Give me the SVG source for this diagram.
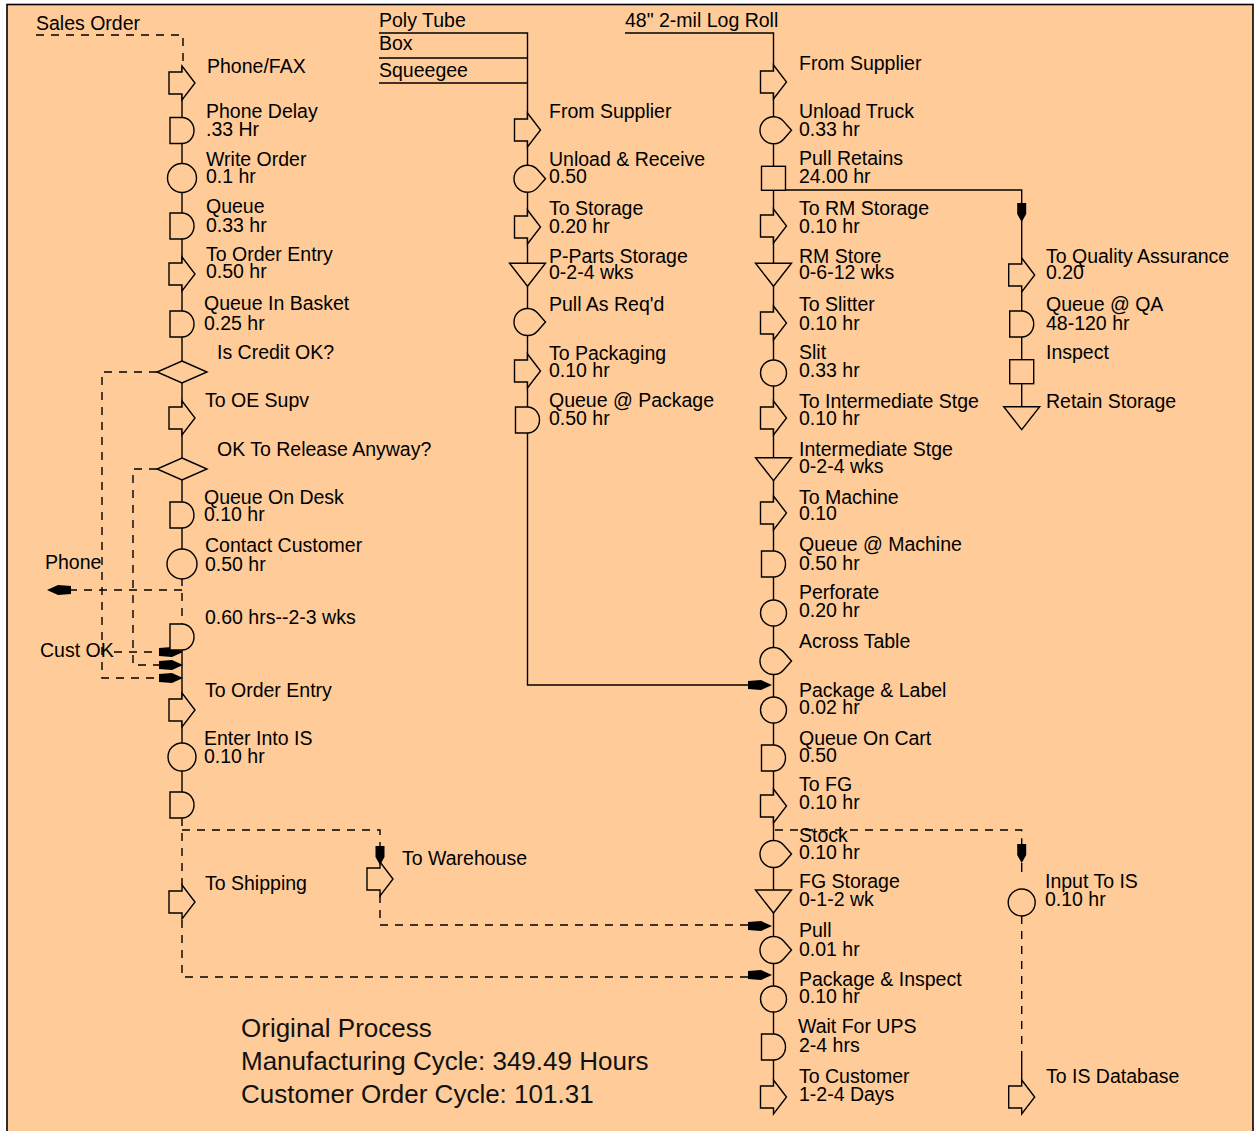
<svg xmlns="http://www.w3.org/2000/svg" width="1256" height="1131" viewBox="0 0 1256 1131">
<style>
.t{font-family:"Liberation Sans",Arial,sans-serif;font-size:19.5px;fill:#000}
.big{font-family:"Liberation Sans",Arial,sans-serif;font-size:26px;fill:#111}
.sh{fill:#FFCC99;stroke:#000;stroke-width:1.4}
.ln{fill:none;stroke:#000;stroke-width:1.4}
.ds{fill:none;stroke:#000;stroke-width:1.4;stroke-dasharray:8 7}
.ah{fill:#000;stroke:none}
</style>
<defs>
<path id="tr" d="M0,-17 L13,0 L0,17 V11 H-13 V-11 H0 Z"/>
<path id="dl" d="M-12,-13 H0 A12,13 0 0 1 0,13 H-12 Z"/>
<path id="ot" d="M18,0 L10.1,-8.93 A13.5,13.5 0 1 0 10.1,8.93 Z"/>
<path id="st" d="M-18,-11 H18 L0,12 Z"/>
<rect id="in" x="-12" y="-12" width="24" height="24"/>
<path id="dm" d="M0,-11 L25,0 L0,11 L-25,0 Z"/>
<path id="ah" d="M0,0 L-11,-5 L-24,-4 L-24,4 L-11,5 Z"/>
<path id="ahd" d="M0,0 L-4.5,-8 L-4.5,-19 L4.5,-19 L4.5,-8 Z"/>
</defs>
<rect x="0" y="0" width="1256" height="1131" fill="#fff"/>
<rect x="7" y="4.5" width="1246" height="1140" fill="#FFCC99" stroke="#000" stroke-width="1.6"/>

<g id="connectors">
<!-- left column solid -->
<path class="ln" d="M182,66 V579"/>
<path class="ln" d="M182,650 V793"/>
<!-- left column dashed -->
<path class="ds" d="M36,35 H183 V66"/>
<path class="ds" d="M157,372 H102 V678 H159"/>
<path class="ds" d="M157,469 H133 V665 H159"/>
<path class="ds" d="M182,578 V624"/>
<path class="ds" d="M182,590 H71"/>
<path class="ds" d="M114,652 H159"/>
<path class="ds" d="M182,818 V885"/>
<path class="ds" d="M182,830 H380 V846"/>
<path class="ds" d="M182,920 V977 H750"/>
<path class="ds" d="M380,895 V925 H750"/>
<use href="#ah" class="ah" transform="translate(47,590) rotate(180)"/>
<use href="#ah" class="ah" transform="translate(183,652)"/>
<use href="#ah" class="ah" transform="translate(183,665)"/>
<use href="#ah" class="ah" transform="translate(183,678)"/>
<use href="#ahd" class="ah" transform="translate(380,865)"/>
<!-- middle column -->
<path class="ln" d="M379,33 H527.5 V685 H750"/>
<path class="ln" d="M379,58 H527.5"/>
<path class="ln" d="M379,83 H527.5"/>
<use href="#ah" class="ah" transform="translate(772,685)"/>
<use href="#ah" class="ah" transform="translate(772,926)"/>
<use href="#ah" class="ah" transform="translate(772,975)"/>
<!-- right column -->
<path class="ln" d="M625,33 H773.5 V1080"/>
<path class="ln" d="M773.5,190 H1021.7 V407"/>
<use href="#ahd" class="ah" transform="translate(1021.7,222)"/>
<!-- IS column -->
<path class="ds" d="M775,830 H1021.7 V844"/>
<use href="#ahd" class="ah" transform="translate(1021.7,863)"/>
<path class="ln" d="M1021.7,863 V872"/>
<path class="ds" d="M1021.7,916 V1058"/>
<path class="ln" d="M1021.7,1058 V1080"/>
</g>

<!-- left column nodes -->
<g id="n_sales"><text class="t" x="36" y="30">Sales Order</text></g>
<g id="n_phonefax"><use href="#tr" class="sh" x="182" y="83"/><text class="t" x="207" y="73">Phone/FAX</text></g>
<g id="n_phonedelay"><use href="#dl" class="sh" x="182" y="130.5"/><text class="t" x="206" y="118">Phone Delay</text><text class="t" x="206" y="136">.33 Hr</text></g>
<g id="n_writeorder"><circle class="sh" cx="182" cy="178" r="14.5"/><text class="t" x="206" y="165.5">Write Order</text><text class="t" x="206" y="183">0.1 hr</text></g>
<g id="n_queue"><use href="#dl" class="sh" x="182" y="226"/><text class="t" x="206" y="213">Queue</text><text class="t" x="206" y="232">0.33 hr</text></g>
<g id="n_toorderentry1"><use href="#tr" class="sh" x="182" y="274"/><text class="t" x="206" y="260.5">To Order Entry</text><text class="t" x="206" y="278">0.50 hr</text></g>
<g id="n_queuebasket"><use href="#dl" class="sh" x="182" y="324"/><text class="t" x="204" y="310">Queue In Basket</text><text class="t" x="204" y="330">0.25 hr</text></g>
<g id="n_credit"><use href="#dm" class="sh" x="182" y="372"/><text class="t" x="217" y="359">Is Credit OK?</text></g>
<g id="n_oesupv"><use href="#tr" class="sh" x="182" y="418"/><text class="t" x="205" y="407">To OE Supv</text></g>
<g id="n_release"><use href="#dm" class="sh" x="182" y="469"/><text class="t" x="217" y="456">OK To Release Anyway?</text></g>
<g id="n_queuedesk"><use href="#dl" class="sh" x="182" y="515"/><text class="t" x="204" y="504">Queue On Desk</text><text class="t" x="204" y="521">0.10 hr</text></g>
<g id="n_contact"><circle class="sh" cx="182" cy="564" r="15"/><text class="t" x="205" y="551.5">Contact Customer</text><text class="t" x="205" y="570.5">0.50 hr</text></g>
<g id="n_phone"><text class="t" x="45" y="569">Phone</text></g>
<g id="n_wait"><use href="#dl" class="sh" x="182" y="637"/><text class="t" x="205" y="624">0.60 hrs--2-3 wks</text></g>
<g id="n_custok"><text class="t" x="40" y="656.5">Cust OK</text></g>
<g id="n_toorderentry2"><use href="#tr" class="sh" x="182" y="710"/><text class="t" x="205" y="696.5">To Order Entry</text></g>
<g id="n_enteris"><circle class="sh" cx="182" cy="757" r="14"/><text class="t" x="204" y="745">Enter Into IS</text><text class="t" x="204" y="762.5">0.10 hr</text></g>
<g id="n_delay3"><use href="#dl" class="sh" x="182" y="805"/></g>
<g id="n_toshipping"><use href="#tr" class="sh" x="182" y="902"/><text class="t" x="205" y="890">To Shipping</text></g>
<g id="n_towarehouse"><use href="#tr" class="sh" x="380" y="879"/><text class="t" x="402" y="865">To Warehouse</text></g>

<!-- middle column nodes -->
<g id="n_polytube"><text class="t" x="379" y="26.5">Poly Tube</text></g>
<g id="n_box"><text class="t" x="379" y="49.5">Box</text></g>
<g id="n_squeegee"><text class="t" x="379" y="76.5">Squeegee</text></g>
<g id="n_m_fromsupplier"><use href="#tr" class="sh" x="527.5" y="130"/><text class="t" x="549" y="118.3">From Supplier</text></g>
<g id="n_m_unload"><use href="#ot" class="sh" x="527.5" y="178.7"/><text class="t" x="549" y="165.7">Unload &amp; Receive</text><text class="t" x="549" y="182.7">0.50</text></g>
<g id="n_m_tostorage"><use href="#tr" class="sh" x="527.5" y="227"/><text class="t" x="549" y="215">To Storage</text><text class="t" x="549" y="233">0.20 hr</text></g>
<g id="n_m_pparts"><use href="#st" class="sh" x="527.5" y="274.3"/><text class="t" x="549" y="262.7">P-Parts Storage</text><text class="t" x="549" y="279.3">0-2-4 wks</text></g>
<g id="n_m_pull"><use href="#ot" class="sh" x="527.5" y="322"/><text class="t" x="549" y="311">Pull As Req'd</text></g>
<g id="n_m_topack"><use href="#tr" class="sh" x="527.5" y="371"/><text class="t" x="549" y="360">To Packaging</text><text class="t" x="549" y="377">0.10 hr</text></g>
<g id="n_m_queuepack"><use href="#dl" class="sh" x="527.5" y="420"/><text class="t" x="549" y="407">Queue @ Package</text><text class="t" x="549" y="425">0.50 hr</text></g>

<!-- right column nodes -->
<g id="n_logroll"><text class="t" x="625" y="26.5">48" 2-mil Log Roll</text></g>
<g id="n_r_fromsupplier"><use href="#tr" class="sh" x="773.5" y="82"/><text class="t" x="799" y="70">From Supplier</text></g>
<g id="n_r_unload"><use href="#ot" class="sh" x="773.5" y="130.3"/><text class="t" x="799" y="118.3">Unload Truck</text><text class="t" x="799" y="136">0.33 hr</text></g>
<g id="n_r_pullretains"><use href="#in" class="sh" x="773.5" y="178.3"/><text class="t" x="799" y="165">Pull Retains</text><text class="t" x="799" y="182.7">24.00 hr</text></g>
<g id="n_r_torm"><use href="#tr" class="sh" x="773.5" y="226"/><text class="t" x="799" y="215">To RM Storage</text><text class="t" x="799" y="233.3">0.10 hr</text></g>
<g id="n_r_rmstore"><use href="#st" class="sh" x="773.5" y="274.3"/><text class="t" x="799" y="262.7">RM Store</text><text class="t" x="799" y="279.3">0-6-12 wks</text></g>
<g id="n_r_toslitter"><use href="#tr" class="sh" x="773.5" y="323"/><text class="t" x="799" y="310.7">To Slitter</text><text class="t" x="799" y="330">0.10 hr</text></g>
<g id="n_r_slit"><circle class="sh" cx="773.5" cy="373" r="13"/><text class="t" x="799" y="359">Slit</text><text class="t" x="799" y="376.7">0.33 hr</text></g>
<g id="n_r_tointer"><use href="#tr" class="sh" x="773.5" y="418"/><text class="t" x="799" y="407.7">To Intermediate Stge</text><text class="t" x="799" y="425">0.10 hr</text></g>
<g id="n_r_interstge"><use href="#st" class="sh" x="773.5" y="468.7"/><text class="t" x="799" y="455.7">Intermediate Stge</text><text class="t" x="799" y="473.3">0-2-4 wks</text></g>
<g id="n_r_tomachine"><use href="#tr" class="sh" x="773.5" y="513"/><text class="t" x="799" y="504">To Machine</text><text class="t" x="799" y="520">0.10</text></g>
<g id="n_r_queuemachine"><use href="#dl" class="sh" x="773.5" y="564"/><text class="t" x="799" y="550.7">Queue @ Machine</text><text class="t" x="799" y="570">0.50 hr</text></g>
<g id="n_r_perforate"><circle class="sh" cx="773.5" cy="613" r="13"/><text class="t" x="799" y="599.3">Perforate</text><text class="t" x="799" y="617.3">0.20 hr</text></g>
<g id="n_r_across"><use href="#ot" class="sh" x="773.5" y="661"/><text class="t" x="799" y="647.7">Across Table</text></g>
<g id="n_r_packlabel"><circle class="sh" cx="773.5" cy="710" r="13"/><text class="t" x="799" y="696.7">Package &amp; Label</text><text class="t" x="799" y="714">0.02 hr</text></g>
<g id="n_r_queuecart"><use href="#dl" class="sh" x="773.5" y="758"/><text class="t" x="799" y="745">Queue On Cart</text><text class="t" x="799" y="761.7">0.50</text></g>
<g id="n_r_tofg"><use href="#tr" class="sh" x="773.5" y="806"/><text class="t" x="799" y="790.7">To FG</text><text class="t" x="799" y="809.3">0.10 hr</text></g>
<g id="n_r_stock"><use href="#ot" class="sh" x="773.5" y="854"/><text class="t" x="799" y="841.7">Stock</text><text class="t" x="799" y="859.3">0.10 hr</text></g>
<g id="n_r_fgstorage"><use href="#st" class="sh" x="773.5" y="901"/><text class="t" x="799" y="888.3">FG Storage</text><text class="t" x="799" y="906">0-1-2 wk</text></g>
<g id="n_r_pull"><use href="#ot" class="sh" x="773.5" y="950"/><text class="t" x="799" y="936.7">Pull</text><text class="t" x="799" y="956">0.01 hr</text></g>
<g id="n_r_packinspect"><circle class="sh" cx="773.5" cy="999" r="13"/><text class="t" x="799" y="985.7">Package &amp; Inspect</text><text class="t" x="799" y="1003">0.10 hr</text></g>
<g id="n_r_waitups"><use href="#dl" class="sh" x="773.5" y="1047"/><text class="t" x="798" y="1033.3">Wait For UPS</text><text class="t" x="799" y="1051.7">2-4 hrs</text></g>
<g id="n_r_tocustomer"><use href="#tr" class="sh" x="773.5" y="1097"/><text class="t" x="799" y="1083.3">To Customer</text><text class="t" x="799" y="1100.7">1-2-4 Days</text></g>

<!-- QA / IS column nodes -->
<g id="n_q_toqa"><use href="#tr" class="sh" x="1021.7" y="275"/><text class="t" x="1046" y="263.3">To Quality Assurance</text><text class="t" x="1046" y="279.3">0.20</text></g>
<g id="n_q_queueqa"><use href="#dl" class="sh" x="1021.7" y="324"/><text class="t" x="1046" y="310.7">Queue @ QA</text><text class="t" x="1046" y="330">48-120 hr</text></g>
<g id="n_q_inspect"><use href="#in" class="sh" x="1021.7" y="371.7"/><text class="t" x="1046" y="359">Inspect</text></g>
<g id="n_q_retain"><use href="#st" class="sh" x="1021.7" y="417.7"/><text class="t" x="1046" y="407.7">Retain Storage</text></g>
<g id="n_i_input"><circle class="sh" cx="1021.7" cy="902.5" r="13.5"/><text class="t" x="1045" y="888.3">Input To IS</text><text class="t" x="1045" y="906">0.10 hr</text></g>
<g id="n_i_todb"><use href="#tr" class="sh" x="1021.7" y="1097"/><text class="t" x="1046" y="1083.3">To IS Database</text></g>

<g id="summary">
<text class="big" x="241" y="1036.5">Original Process</text>
<text class="big" x="241" y="1070">Manufacturing Cycle: 349.49 Hours</text>
<text class="big" x="241" y="1103">Customer Order Cycle: 101.31</text>
</g>
</svg>
